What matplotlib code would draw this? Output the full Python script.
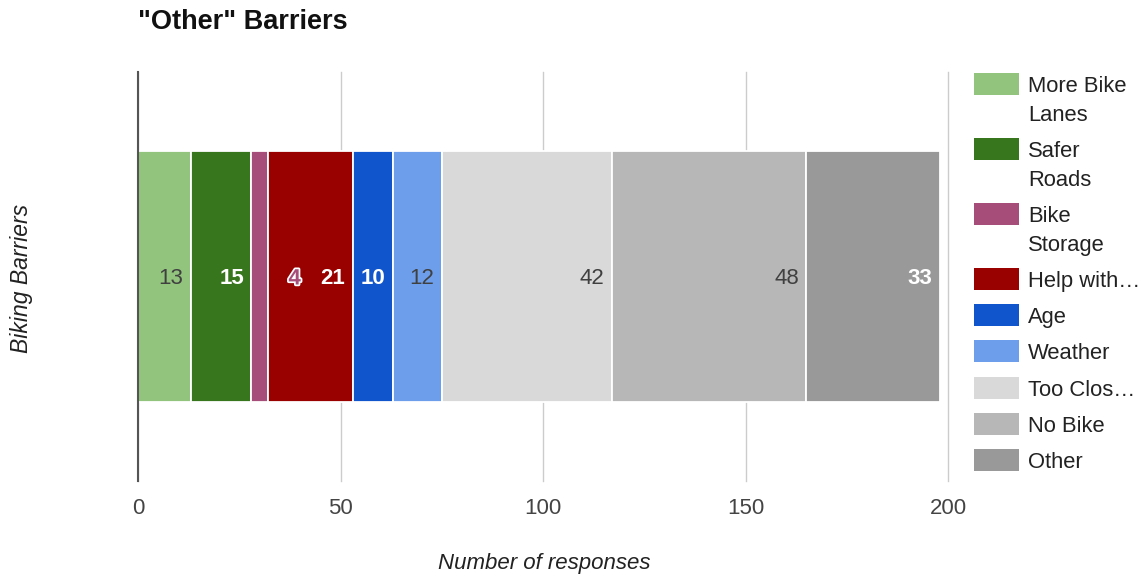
import matplotlib
matplotlib.use("Agg")
import matplotlib.pyplot as plt
import matplotlib.patheffects as pe
from matplotlib.patches import Rectangle

plt.rcParams["font.family"] = ["Liberation Sans", "DejaVu Sans"]

categories = ["More Bike Lanes", "Safer Roads", "Bike Storage", "Help with...",
              "Age", "Weather", "Too Close...", "No Bike", "Other"]
legend_labels = ["More Bike\nLanes", "Safer\nRoads", "Bike\nStorage", "Help with…",
                 "Age", "Weather", "Too Clos…", "No Bike", "Other"]
counts = [13, 15, 4, 21, 10, 12, 42, 48, 33]
colors = ["#93c47d", "#38761d", "#a64d79", "#990000", "#1155cc",
          "#6d9eeb", "#d9d9d9", "#b7b7b7", "#999999"]
label_colors = ["#404040", "white", "#a64d79", "white", "white",
                "#404040", "#404040", "#404040", "white"]
xticks = [0, 50, 100, 150, 200]

W, H = 1146, 578
fig = plt.figure(figsize=(W / 100, H / 100), dpi=100)
ax = fig.add_axes([138 / W, (H - 481) / H, 810 / W, 409 / H])

left = 0
for i, (n, c) in enumerate(zip(counts, colors)):
    ax.barh(0, n, left=left, height=0.614, color=c, edgecolor="white", linewidth=1.3, zorder=3)
    end = left + n
    tx = end - 1.8
    kw = dict(ha="right", va="center_baseline", fontsize=16, color=label_colors[i], zorder=4)
    if label_colors[i] == "white":
        kw["fontweight"] = "bold"
    if n < 8:
        # too narrow to hold its label, so it spills into the next segment
        tx = end + 8.2
        kw["fontweight"] = "bold"
        kw["path_effects"] = [pe.withStroke(linewidth=2.5, foreground="white")]
    ax.text(tx, 0, str(n), **kw)
    left = end

ax.set_xlim(0, 200)
ax.set_ylim(-0.5, 0.5)
ax.set_xticks(xticks)
ax.set_xticklabels([str(t) for t in xticks], fontsize=16, color="#444444")
ax.set_yticks([])
ax.tick_params(axis="x", length=0, pad=12.5)
ax.grid(axis="x", color="#cccccc", linewidth=1, zorder=0)
for gl in ax.get_xgridlines():
    gl.set_clip_on(False)
for s in ["top", "right", "bottom"]:
    ax.spines[s].set_visible(False)
ax.spines["left"].set_color("#555555")
ax.spines["left"].set_linewidth(1.5)
ax.spines["left"].set_zorder(5)

fig.text(138 / W, 1 - 22 / H, '"Other" Barriers', fontsize=19.5, fontweight="bold",
         ha="left", va="center", color="#111111")
fig.text(22 / W, 1 - 278 / H, "Biking Barriers", fontsize=16.5, style="italic",
         rotation=90, ha="center", va="center", color="#222222")
fig.text(544 / W, 1 - 563 / H, "Number of responses", fontsize=16, style="italic",
         ha="center", va="center", color="#222222")

# legend drawn by hand so two-line entries wrap like the original
y = 84
for lab, c in zip(legend_labels, colors):
    fig.add_artist(Rectangle((974 / W, 1 - (y + 11) / H), 45 / W, 22 / H,
                             transform=fig.transFigure, facecolor=c, edgecolor="none"))
    lines = lab.split("\n")
    for k, line in enumerate(lines):
        fig.text(1028 / W, 1 - (y + 29 * k) / H, line, fontsize=15.8, ha="left",
                 va="center_baseline", color="#222222")
    y += 65 if len(lines) > 1 else 36.2

fig.savefig("out.png", dpi=100)
